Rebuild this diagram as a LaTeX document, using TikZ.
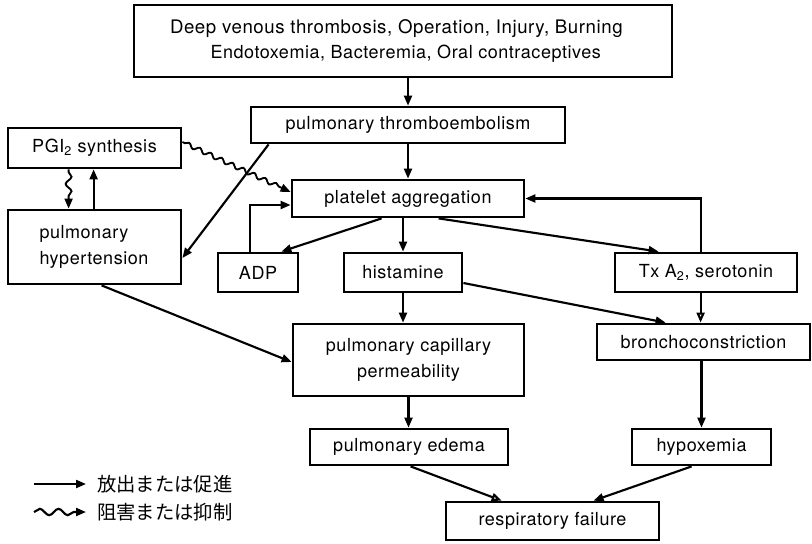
\documentclass[tikz,border=0pt]{standalone}
\usepackage{fontspec}
\setmainfont{TeX Gyre Heros}[LetterSpace=3]
\newfontfamily\jfont{Noto Sans CJK JP}
\usetikzlibrary{arrows.meta,calc,decorations.pathmorphing}
\newcommand{\boxnode}[6]{\node[box, minimum width={(#4-#2)*0.75pt}, minimum height={(#5-#3)*0.75pt}] (#1) at ({(#2+#4)/2},{(#3+#5)/2}) {#6};}
\tikzset{
  box/.style={draw, line width=2.1pt, inner sep=0pt, font=\fontsize{13.5}{19}\selectfont, align=center},
  arr/.style={line width=1.6pt, -{Triangle[length=7.5pt,width=6pt]}},
  oarr/.style={line width=1.6pt, -{Triangle[open,length=7.5pt,width=6pt]}},
  wavy/.style={line width=1.4pt, -{Triangle[length=7.5pt,width=6pt]}, decorate,
    decoration={snake, amplitude=1.6pt, segment length=9pt, pre length=2pt, post length=6pt}},
  vwavy/.style={line width=1.4pt, -{Triangle[length=7.5pt,width=6pt]}, decorate,
    decoration={snake, amplitude=2.2pt, segment length=11pt, pre length=2pt, post length=6pt}},
  bigwavy/.style={line width=1.6pt, -{Triangle[length=7.5pt,width=6pt]}, decorate,
    decoration={snake, amplitude=2.4pt, segment length=14pt, post length=7pt}},
}
\begin{document}
\begin{tikzpicture}[x=0.75pt,y=-0.75pt]
\useasboundingbox (0,0) rectangle (812,543);
\boxnode{top}{134}{5}{672}{77}{\fontsize{14}{20.5}\selectfont Deep venous thrombosis, Operation, Injury, Burning\hspace*{10pt}\\ \hspace*{4pt}Endotoxemia, Bacteremia, Oral contraceptives}
\boxnode{thrombo}{251}{107}{565}{143}{pulmonary thromboembolism}
\boxnode{pgi}{8}{128}{181}{168}{PGI\textsubscript{2} synthesis}
\boxnode{plat}{292}{180}{524}{217}{platelet aggregation}
\node[box, align=left, minimum width={173*0.75pt}, minimum height={74*0.75pt}, text width={110*0.75pt}] (hyper) at (94.5,247) {pulmonary\\hypertension};
\boxnode{adp}{218}{253}{298}{292}{ADP}
\boxnode{hist}{344}{253}{462}{292}{histamine}
\boxnode{tx}{615}{253}{797}{292}{Tx A\textsubscript{2}, serotonin}
\boxnode{broncho}{597}{324}{810}{360}{bronchoconstriction}
\boxnode{cap}{293}{324}{524}{396}{pulmonary capillary\\permeability}
\boxnode{edema}{310}{429}{508}{465}{pulmonary edema}
\boxnode{hypox}{632}{429}{771}{465}{hypoxemia}
\boxnode{resp}{446}{502}{659}{540}{respiratory failure}

% connectors
\draw[arr] (thrombo.north |- top.south) -- (thrombo.north);
\draw[arr] (thrombo.south) -- (plat.north);
\draw[arr] ($(thrombo.south west)+(19,0)$) -- ($(hyper.east)+(0,11)$);
\draw[wavy] ($(pgi.east)+(0,-6)$) -- ($(plat.west)+(0,-6.5)$);
\draw[vwavy] ($(pgi.south west)+(62,0)$) -- ($(hyper.north west)+(62,0)$);
\draw[arr] ($(hyper.north west)+(87,0)$) -- ($(pgi.south west)+(87,0)$);
\draw[arr] ($(adp.north west)+(33,0)$) |- ($(plat.west)+(0,6.5)$);
\draw[arr] ($(plat.south west)+(91,0)$) -- ($(adp.north east)+(-18,0)$);
\draw[arr] (hist.north |- plat.south) -- (hist.north);
\draw[arr] ($(plat.south west)+(148,0)$) -- ($(tx.north west)+(45,0)$);
\draw[arr] ($(tx.north west)+(87,0)$) |- (plat.east);
\draw[oarr] ($(tx.south west)+(87,0)$) coordinate (t1) -- (t1 |- broncho.north);
\draw[arr] ($(hist.east)+(0,10.5)$) -- ($(broncho.north west)+(70,0)$);
\draw[arr] (hist.south) -- (hist.south |- cap.north);
\draw[arr] ($(hyper.south west)+(95,0)$) -- ($(cap.west)+(0,2)$);
\draw[arr] (cap.south) -- (cap.south |- edema.north);
\draw[arr] (hypox.north |- broncho.south) -- (hypox.north);
\draw[oarr] ($(edema.south west)+(102,0)$) -- ($(resp.north west)+(57,0)$);
\draw[arr] ($(hypox.south west)+(61,0)$) -- ($(resp.north west)+(149,0)$);

% legend
\coordinate (la1) at (34,484); \coordinate (la2) at (86,484);
\coordinate (lb1) at (34,512); \coordinate (lb2) at (86,512);
\draw[arr] (la1) -- (la2);
\draw[bigwavy] (lb1) -- (lb2);
\node[anchor=west, inner sep=0pt, font=\jfont\fontsize{14.5}{16}\selectfont] (lt1) at (97,484) {放出または促進};
\node[anchor=west, inner sep=0pt, font=\jfont\fontsize{14.5}{16}\selectfont] (lt2) at (97,512) {阻害または抑制};
\end{tikzpicture}
\end{document}
